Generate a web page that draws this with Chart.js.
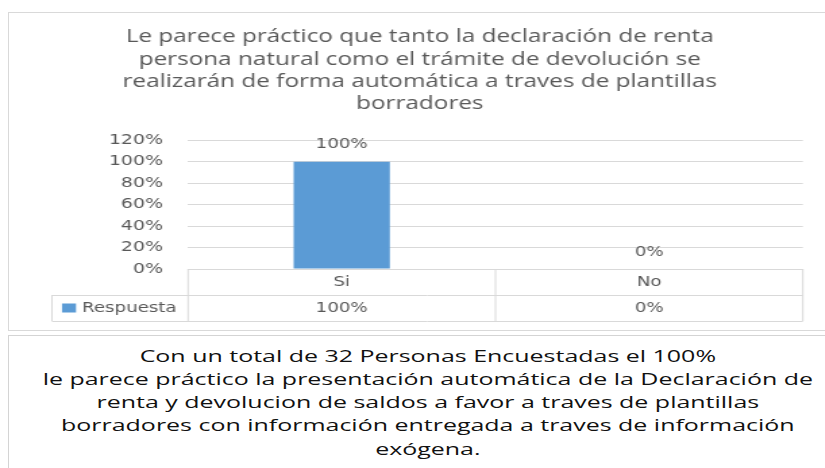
<!DOCTYPE html>
<html>
<head>
<meta charset="utf-8">
<script src="https://cdn.jsdelivr.net/npm/chart.js@4.4.1/dist/chart.umd.min.js"></script>
<style>
  html, body { margin:0; padding:0; background:#fff; overflow:hidden; width:825px; height:468px; }
  #box1 { position:absolute; left:8px; top:12px; width:840px; height:319px; border:1px solid #d9d9d9; box-sizing:border-box; }
  #box2 { position:absolute; left:8px; top:335px; width:840px; height:200px; border:1px solid #d4d4d4; box-sizing:border-box; }
  #wrap { position:absolute; left:0; top:0; width:611px; height:330px; transform:scaleX(1.35); transform-origin:0 0; }
  #note { position:absolute; left:8px; top:343.5px; width:572px; transform:scaleX(1.468); transform-origin:0 0;
          text-align:center; font-family:"Open Sans", sans-serif; font-size:17px; line-height:23.3px; color:#111; white-space:nowrap; }
</style>
</head>
<body>
<div id="box1"></div>
<div id="box2"></div>
<div id="wrap"><canvas id="c"></canvas></div>
<div id="note"></div>
<script>
const titleLines = [
  'Le parece práctico que tanto la declaración de renta',
  'persona natural como el trámite de devolución se',
  'realizarán de forma automática a traves de plantillas',
  'borradores'
];
const categories = ['Si', 'No'];
const seriesName = 'Respuesta';
const respuesta = [100, 0];
const yTickLabels = ['0%', '20%', '40%', '60%', '80%', '100%', '120%'];
const noteLines = [
  'Con un total de 32 Personas Encuestadas el 100%',
  'le parece práctico la presentación automática de la Declaración de',
  'renta y devolucion de saldos a favor a traves de plantillas',
  'borradores con información entregada a traves de información',
  'exógena.'
];

document.getElementById('note').innerHTML = noteLines.map(s => s.replace(/&/g,'&amp;').replace(/</g,'&lt;')).join('<br>');

const AXIS_FONT = '"DejaVu Sans", sans-serif';
const TEXT = '#595959';
const LINE = '#d9d9d9';
const fmt = v => v + '%';

const tablePlugin = {
  id: 'dataTable',
  afterDraw(chart) {
    const { ctx, chartArea: a, scales: { x } } = chart;
    const meta = chart.getDatasetMeta(0);
    ctx.save();
    ctx.font = '13.5px ' + AXIS_FONT;
    ctx.fillStyle = TEXT;
    ctx.textAlign = 'center';
    ctx.textBaseline = 'middle';
    meta.data.forEach((bar, i) => {
      ctx.fillText(fmt(respuesta[i]), bar.x, bar.y - 17);
    });
    const top = x.top, bottom = x.bottom;
    const rowH = (bottom - top) / 2;
    const r1 = top + rowH;
    const catW = (a.right - a.left) / categories.length;
    const legLeft = a.left - 100.8;
    ctx.strokeStyle = LINE;
    ctx.lineWidth = 1;
    ctx.beginPath();
    ctx.moveTo(a.left, top + 0.5); ctx.lineTo(a.right, top + 0.5);
    ctx.moveTo(legLeft, r1 + 0.5); ctx.lineTo(a.right, r1 + 0.5);
    ctx.moveTo(legLeft, bottom + 0.5); ctx.lineTo(a.right, bottom + 0.5);
    ctx.moveTo(legLeft, r1); ctx.lineTo(legLeft, bottom);
    for (let i = 0; i <= categories.length; i++) {
      const px = a.left + i * catW;
      ctx.moveTo(px, top); ctx.lineTo(px, bottom);
    }
    ctx.stroke();
    respuesta.forEach((v, i) => {
      ctx.fillText(fmt(v), x.getPixelForValue(i), r1 + rowH / 2);
    });
    ctx.fillStyle = chart.data.datasets[0].backgroundColor;
    ctx.fillRect(legLeft + 7.4, r1 + 8.5, 10.4, 9);
    ctx.fillStyle = TEXT;
    ctx.textAlign = 'left';
    ctx.fillText(seriesName, legLeft + 22.2, r1 + rowH / 2);
    ctx.restore();
  }
};

new Chart(document.getElementById('c'), {
  type: 'bar',
  data: {
    labels: categories,
    datasets: [{
      label: seriesName,
      data: respuesta,
      backgroundColor: '#5B9BD5',
      borderWidth: 0,
      barPercentage: 0.313,
      categoryPercentage: 1
    }]
  },
  options: {
    responsive: true,
    maintainAspectRatio: false,
    animation: false,
    layout: { padding: { left: 27.2, right: 16.3, top: 0, bottom: 9 } },
    plugins: {
      legend: { display: false },
      tooltip: { enabled: false },
      title: {
        display: true,
        text: titleLines,
        color: TEXT,
        font: { family: '"Open Sans", sans-serif', size: 18, weight: 'normal', lineHeight: 1.239 },
        padding: { top: 26, bottom: 25 }
      }
    },
    scales: {
      x: {
        grid: { display: false, drawTicks: false },
        border: { display: false },
        ticks: { color: TEXT, font: { family: AXIS_FONT, size: 13.5 }, padding: 5 },
        afterFit(s) { s.height = 52; }
      },
      y: {
        min: 0, max: 120,
        grid: { color: LINE, drawTicks: false },
        border: { display: false },
        ticks: {
          stepSize: 20,
          color: TEXT,
          font: { family: AXIS_FONT, size: 14 },
          padding: 18.6,
          callback: (v, i) => yTickLabels[i]
        },
        afterFit(s) { s.width = 112.1; }
      }
    }
  },
  plugins: [tablePlugin]
});
</script>
</body>
</html>
